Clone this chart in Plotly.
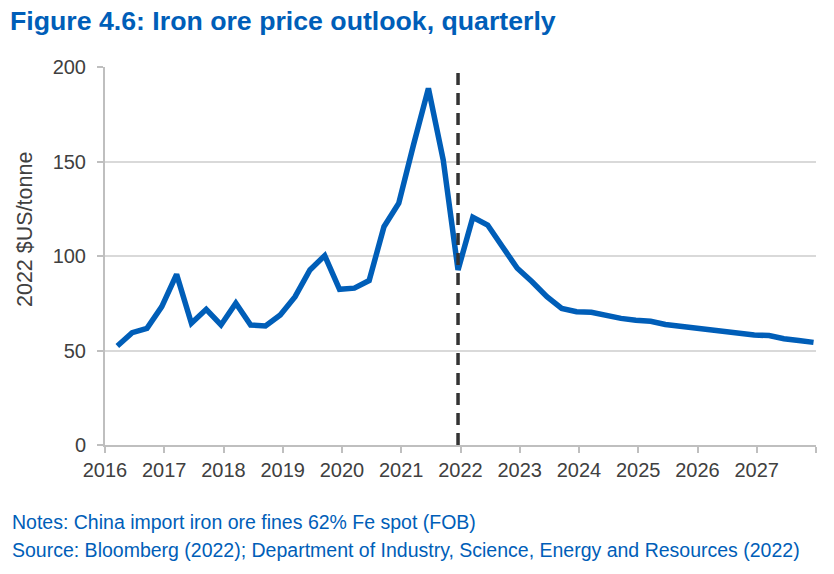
import plotly.graph_objects as go

years = list(range(2016, 2028))
quarters = [1, 2, 3, 4]
prices = [
    52.4, 59.4, 61.7, 73.2,
    90.3, 64.4, 71.8, 63.5,
    75.0, 63.5, 63.0, 68.8,
    78.5, 92.6, 100.2, 82.4,
    83.0, 87.0, 115.5, 127.9,
    159.0, 188.7, 150.8, 92.6,
    120.5, 116.4, 104.9, 93.5,
    86.4, 78.5, 72.3, 70.5,
    70.2, 68.3, 67.0, 66.0,
    65.5, 63.8, 62.8, 61.8,
    61.3, 59.8, 58.8, 58.2,
    57.9, 56.2, 55.3, 54.3,
]
tick_years = list(range(2016, 2029))
tick_labels = [str(y) for y in range(2016, 2028)] + [""]
forecast_start = 2021 + (3 * 4 - 0.5) / 12  # 2021 Q4, last historical quarter

x = [y + (3 * q - 0.5) / 12 for y in years for q in quarters]

BLUE = "#005EB8"
TXT = "#404040"
FONT = "Liberation Sans, Arial, sans-serif"

fig = go.Figure()
fig.add_trace(go.Scatter(x=x, y=prices, mode="lines",
                         line=dict(color=BLUE, width=5.5), showlegend=False,
                         hoverinfo="x+y"))
fig.add_shape(type="line", xref="x", yref="y", x0=forecast_start, x1=forecast_start,
              y0=0, y1=200, line=dict(color="#333333", width=3.5, dash="12px,8px"))

fig.update_layout(
    width=834, height=574,
    margin=dict(l=105, r=18, t=67, b=129),
    paper_bgcolor="white", plot_bgcolor="white",
    font=dict(family=FONT, color=TXT, size=20),
    title=dict(text="<b>Figure 4.6: Iron ore price outlook, quarterly</b>",
               x=10/834, xanchor="left", y=1 - 11/574, yanchor="top",
               font=dict(size=26.7, color=BLUE, family=FONT)),
    xaxis=dict(range=[2016, 2028], tickmode="array", tickvals=tick_years,
               ticktext=tick_labels, showgrid=False, showline=True,
               linecolor="#BFBFBF", linewidth=2, ticks="outside", ticklen=6,
               tickcolor="#BFBFBF", tickwidth=2, zeroline=False,
               tickfont=dict(size=20, color=TXT)),
    yaxis=dict(range=[0, 200], tickvals=[0, 50, 100, 150, 200], showgrid=True,
               gridcolor="#D9D9D9", gridwidth=1.5, showline=True, linecolor="#BFBFBF",
               linewidth=2, ticks="outside", ticklen=6, tickcolor="#BFBFBF",
               tickwidth=2, zeroline=False, ticklabelstandoff=7,
               tickfont=dict(size=20, color=TXT)),
)
fig.add_annotation(text="2022 $US/tonne", textangle=-90,
                   xref="paper", yref="paper", x=(25 - 105) / 711, y=(445 - 230) / 378,
                   xanchor="center", yanchor="middle", showarrow=False,
                   font=dict(size=21.5, color=TXT))
fig.add_annotation(text="Notes: China import iron ore fines 62% Fe spot (FOB)",
                   xref="paper", yref="paper", x=(10 - 105) / 711, y=-77/378,
                   xanchor="left", yanchor="middle", showarrow=False,
                   font=dict(size=19.5, color=BLUE))
fig.add_annotation(text="Source: Bloomberg (2022); Department of Industry, Science, Energy and Resources (2022)",
                   xref="paper", yref="paper", x=(10 - 105) / 711, y=-105/378,
                   xanchor="left", yanchor="middle", showarrow=False,
                   font=dict(size=19.5, color=BLUE))

fig.write_html("out.html")
